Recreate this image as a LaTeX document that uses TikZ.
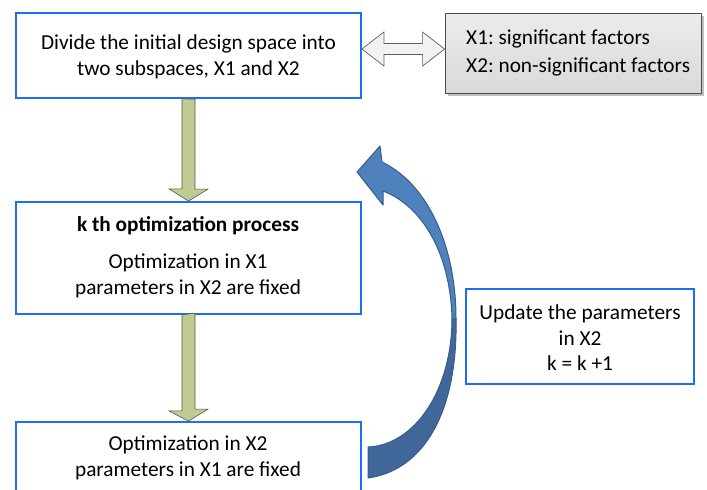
\documentclass[tikz,border=0pt]{standalone}
\usepackage{fontspec}
\setmainfont{Carlito}
\frenchspacing
\usetikzlibrary{calc}
\definecolor{boxblue}{HTML}{1C6EF7}
\definecolor{garrowfill}{HTML}{BFCB93}
\definecolor{garrowdraw}{HTML}{4E5A3A}
\definecolor{barrowfill}{HTML}{4F81BD}
\definecolor{barrowdark}{HTML}{41679A}
\definecolor{barrowdraw}{HTML}{385D8A}
\tikzset{
  flowbox/.style={draw=boxblue, line width=1.8pt, fill=white, align=center, inner sep=0pt},
  txt/.style={font=\fontsize{21.3}{25.5}\selectfont, align=center, inner sep=0pt},
  greenarrow/.style={fill=garrowfill, draw=garrowdraw, line width=0.6pt, line join=miter},
  dblarrow/.style={fill=white!90!gray, draw=gray!75!black, line width=0.7pt},
}
\begin{document}
\begin{tikzpicture}[x=1pt,y=-1pt]
\useasboundingbox (0,0) rectangle (707,490);
% boxes
\node[flowbox, minimum width=345pt, minimum height=85pt] (b1) at (188.5,55.5) {};
\node[txt] (t1) at (188.5,57) {Divide the initial design space into\\two subspaces, X1 and X2};

\fill[gray!50] (448,16) rectangle (704,96);
\node[draw=gray!60!black, line width=0.8pt, top color=white!85!gray, bottom color=white!70!gray,
      minimum width=256pt, minimum height=80pt, inner sep=0pt] (g) at (573,53) {};
\node[txt, align=left, anchor=west, font=\fontsize{21.3}{28.5}\selectfont] (tg) at (466,53) {X1: significant factors\\X2: non-significant factors};

\node[flowbox, minimum width=345pt, minimum height=112pt] (b2) at (188.5,258) {};
\node[txt, font=\bfseries\fontsize{21.3}{25.5}\selectfont] (t2a) at (188,226) {k th optimization process};
\node[txt] (t2b) at (188,276) {Optimization in X1\\parameters in X2 are fixed};

\node[flowbox, minimum width=345pt, minimum height=100pt] (b3) at (188.5,472) {};
\node[txt] (t3) at (188,458) {Optimization in X2\\parameters in X1 are fixed};

\node[flowbox, minimum width=228pt, minimum height=95pt] (b4) at (580,336.5) {};
\node[txt] (t4) at (580,338) {Update the parameters\\in X2\\k = k +1};

% double arrow between b1 and g
\coordinate (dl) at (b1.east |- 0,49);
\coordinate (dr) at (g.west |- 0,49);
\draw[dblarrow] (dl) -- ++(22,-17) -- ++(0,11.5) -- ($(dr)+(-22,-5.5)$) -- ++(0,-11.5) -- (dr) -- ++(-22,17) -- ++(0,-11.5) -- ($(dl)+(22,5.5)$) -- ++(0,11.5) -- cycle;

% green arrows
\draw[greenarrow] ($(b1.south)+(-6.5,0)$) -- ++(0,90) -- ++(-13,0) -- (b2.north) -- ++(19.5,-12) -- ++(-13,0) -- ++(0,-90) -- cycle;
\draw[greenarrow] ($(b2.south)+(-6.5,0)$) -- ++(0,96) -- ++(-13,0) -- (b3.north) -- ++(19.5,-12) -- ++(-13,0) -- ++(0,-96) -- cycle;

% blue curved arrow
\coordinate (tailA) at (368,447);
\coordinate (tailB) at (368,478);
\coordinate (tip) at (357,172);
\fill[barrowfill] (tailB) .. controls (425,470) and (458,410) .. (456,318)
   .. controls (456,250) and (430,185) .. (382,162) -- (380,146) -- (tip) -- (383,205) -- (383,191)
   .. controls (420,205) and (450,250) .. (452,318)
   .. controls (452,390) and (415,445) .. (tailA) -- cycle;
\fill[barrowdark] (tailB) .. controls (425,470) and (458,410) .. (456,318)
   -- (452,318) .. controls (452,390) and (415,445) .. (tailA) -- cycle;
\draw[barrowdraw, line width=1pt, line join=round] (tailB) .. controls (425,470) and (458,410) .. (456,318)
   .. controls (456,250) and (430,185) .. (382,162) -- (380,146) -- (tip) -- (383,205) -- (383,191)
   .. controls (420,205) and (450,250) .. (452,318)
   .. controls (452,390) and (415,445) .. (tailA) -- cycle;
\end{tikzpicture}
\end{document}
